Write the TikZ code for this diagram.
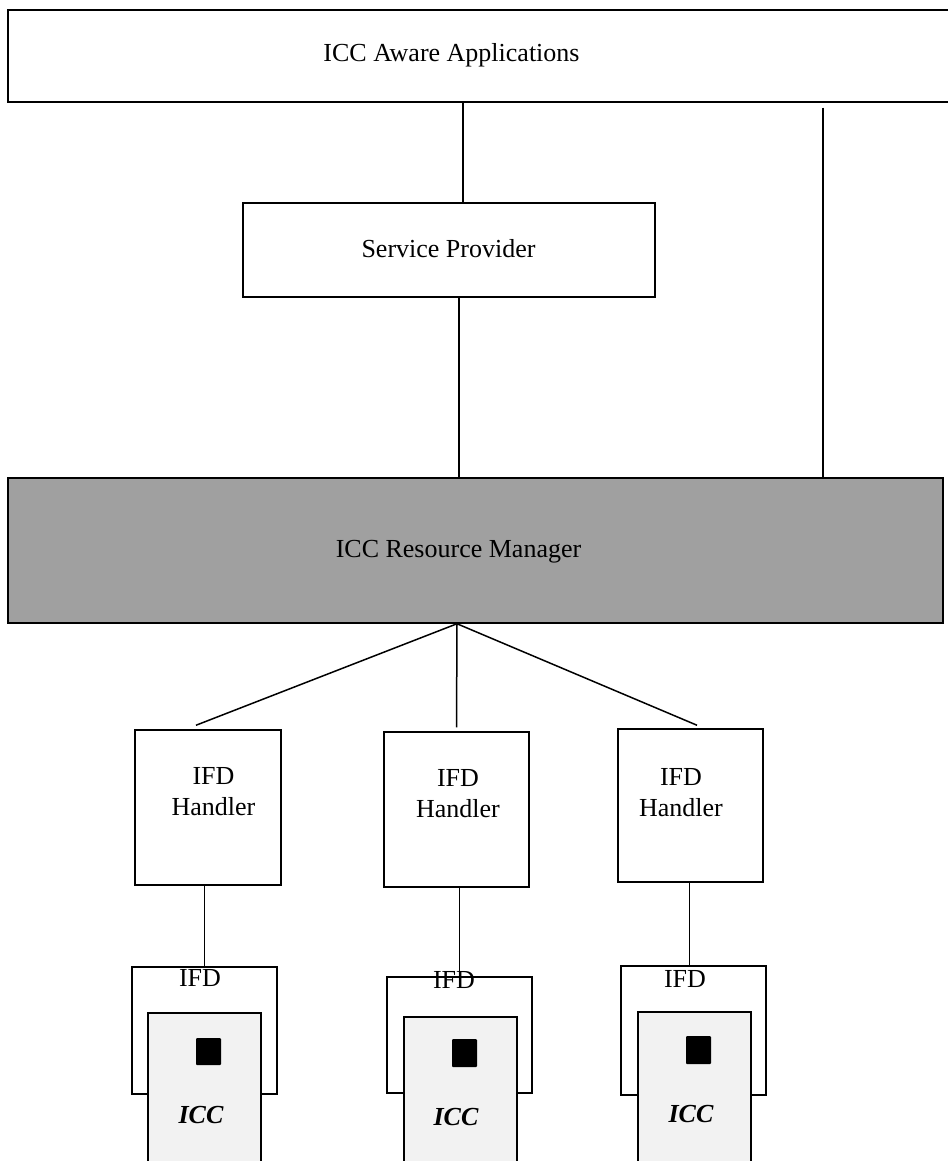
\documentclass[tikz,border=0pt]{standalone}
\usepackage{fontspec}
\setmainfont{Liberation Serif}
\definecolor{rmgray}{HTML}{A0A0A0}
\definecolor{cardgray}{HTML}{F2F2F2}
\tikzset{
  blk/.style={draw,line width=1.5pt,inner sep=0pt},
  txt/.style={font=\fontsize{26}{31}\selectfont,inner sep=0pt,anchor=base},
  wire/.style={line width=1.5pt},
}
\begin{document}
\begin{tikzpicture}[x=1pt,y=-1pt]
        \useasboundingbox (0,0) rectangle (947,1161);
        \node[blk,minimum width=944pt,minimum height=92pt] (apps) at (480,56) {};
        \node[txt] (appstxt) at (451.5,62) {ICC Aware Applications};
        \node[blk,minimum width=412pt,minimum height=94pt] (sp) at (449,250) {};
        \node[txt] (sptxt) at (448.5,257) {Service Provider};
        \node[blk,fill=rmgray,minimum width=935pt,minimum height=145pt] (rm) at (475.5,550.5) {};
        \node[txt] (rmtxt) at (458.5,557) {ICC Resource Manager};
        % handlers
        \node[blk,minimum width=146pt,minimum height=155pt] (h1) at (208,807.5) {};
        \node[blk,minimum width=145pt,minimum height=155pt] (h2) at (456.5,809.5) {};
        \node[blk,minimum width=145pt,minimum height=153pt] (h3) at (690.5,805.5) {};
        \node[txt,anchor=north,align=center] (h1txt) at (213.5,767) {IFD\\Handler};
        \node[txt,anchor=north,align=center] (h2txt) at (458,769) {IFD\\Handler};
        \node[txt,anchor=north,align=center] (h3txt) at (681,768) {IFD\\Handler};
        % readers and cards
        \node[blk,minimum width=145pt,minimum height=127pt] (ifd1) at (204.5,1030.5) {};
        \node[blk,minimum width=145pt,minimum height=116pt] (ifd2) at (459.5,1035) {};
        \node[blk,minimum width=145pt,minimum height=129pt] (ifd3) at (693.5,1030.5) {};
        \node[txt] (ifd1txt) at (200,986) {IFD};
        \node[txt] (ifd2txt) at (454,988) {IFD};
        \node[txt] (ifd3txt) at (685,987) {IFD};
        \node[blk,fill=cardgray,minimum width=113pt,minimum height=162pt] (card1) at (204.5,1094) {};
        \node[blk,fill=cardgray,minimum width=113pt,minimum height=158pt] (card2) at (460.5,1096) {};
        \node[blk,fill=cardgray,minimum width=113pt,minimum height=163pt] (card3) at (694.5,1093.5) {};
        \node[fill=black,rounded corners=1pt,minimum width=25pt,minimum height=27pt,inner sep=0pt] (chip1) at (208.5,1051.5) {};
        \node[fill=black,rounded corners=1pt,minimum width=25pt,minimum height=28pt,inner sep=0pt] (chip2) at (464.5,1053) {};
        \node[fill=black,rounded corners=1pt,minimum width=25pt,minimum height=28pt,inner sep=0pt] (chip3) at (698.5,1050) {};
        \node[txt,font=\fontsize{26}{31}\selectfont\bfseries\itshape] (icc1) at (201,1123) {ICC};
        \node[txt,font=\fontsize{26}{31}\selectfont\bfseries\itshape] (icc2) at (456,1125) {ICC};
        \node[txt,font=\fontsize{26}{31}\selectfont\bfseries\itshape] (icc3) at (691,1122) {ICC};
        % connections
        \draw[wire] ([xshift=14pt]sp.north) -- ([xshift=14pt]sp.north |- apps.south);
        \draw[wire] ([xshift=10pt]sp.south) -- ([xshift=10pt]sp.south |- rm.north);
        \draw[wire] ([shift={(343pt,-5pt)}]apps.south) -- ([xshift=343pt]apps.south |- rm.north);
        \coordinate (hub) at ([xshift=-18.5pt]rm.south);
        \draw[wire] (hub) -- ([shift={(-12pt,4pt)}]h1.north);
        \draw[wire] (hub) -- ([yshift=4pt]h2.north);
        \draw[wire] (hub) -- ([shift={(6.5pt,3pt)}]h3.north);
        \draw[wire] (h1.south -| ifd1.north) -- (ifd1.north);
        \draw[wire] (h2.south -| ifd2.north) -- (ifd2.north);
        \draw[wire] ([xshift=-4pt]h3.south -| ifd3.north) -- ([xshift=-4pt]ifd3.north);
      \end{tikzpicture}
\end{document}
